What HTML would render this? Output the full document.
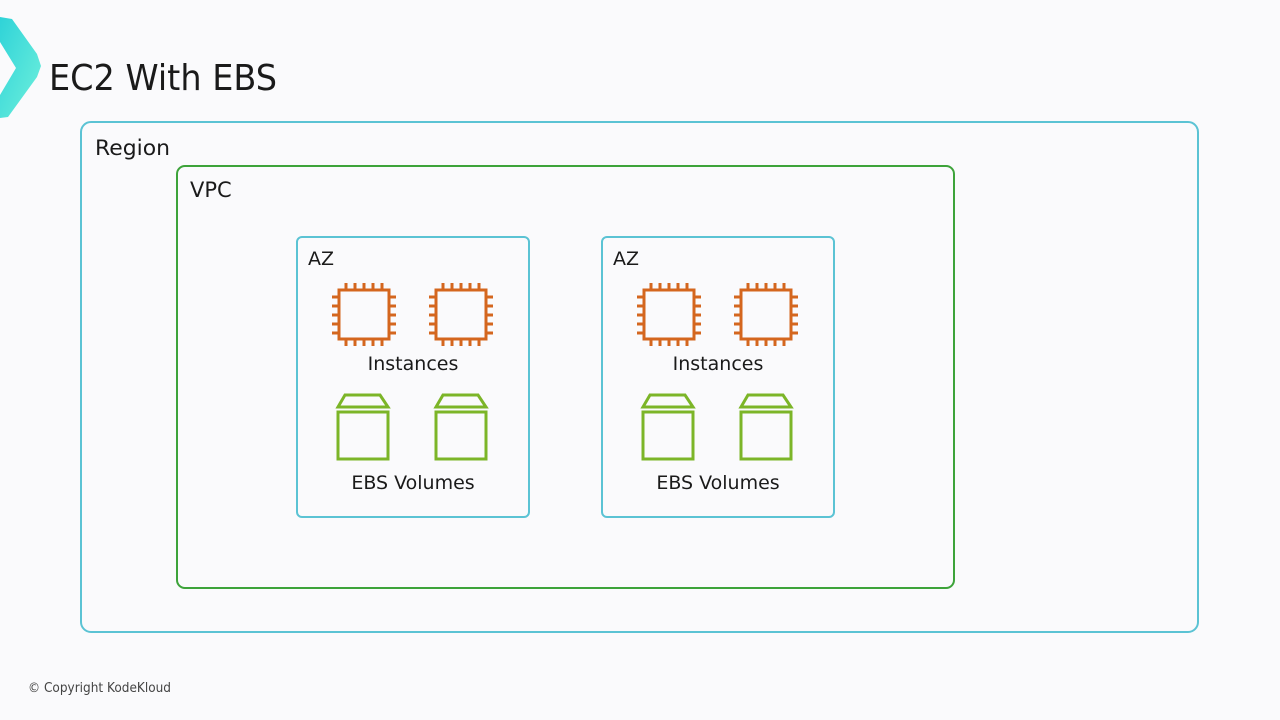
<!DOCTYPE html>
<html><head><meta charset="utf-8"><style>
html,body{margin:0;padding:0;background:#fafafc;}
svg{display:block}
text{font-family:"DejaVu Sans","Liberation Sans",sans-serif;fill:#1a1a1a}
</style></head><body>
<svg width="1280" height="720" viewBox="0 0 1280 720" xmlns="http://www.w3.org/2000/svg">
<defs>
<linearGradient id="g" x1="0" y1="0" x2="1" y2="1">
<stop offset="0" stop-color="#2fd3d8"/><stop offset="1" stop-color="#6ff0dc"/></linearGradient>
<g id="chip" fill="none" stroke="#d4661e" stroke-width="3">
<rect x="339" y="290" width="50" height="49"/>
<path d="M346 283v7M355 283v7M364 283v7M373 283v7M382 283v7M346 339v7M355 339v7M364 339v7M373 339v7M382 339v7M332 297h7M332 306h7M332 315h7M332 324h7M332 333h7M389 297h7M389 306h7M389 315h7M389 324h7M389 333h7"/>
</g>
<g id="vol" fill="none" stroke="#7cb528" stroke-width="3">
<path d="M338 407 L345 395 L380 395 L388 407 Z"/>
<rect x="338" y="412" width="50" height="47"/>
</g>
</defs>
<rect width="1280" height="720" fill="#fafafc"/>
<path d="M0 17 L12 19 L37 54 L41 66 L37 77 L8 117 L0 118 L0 95 L16 68 L0 42 Z" fill="url(#g)"/>
<text x="49" y="90" font-size="36" textLength="228" lengthAdjust="spacingAndGlyphs">EC2 With EBS</text>
<rect x="81" y="122" width="1117" height="510" rx="10" fill="none" stroke="#5bc3d4" stroke-width="2"/>
<text x="95" y="155" font-size="21" textLength="75" lengthAdjust="spacingAndGlyphs">Region</text>
<rect x="177" y="166" width="777" height="422" rx="8" fill="none" stroke="#3da33a" stroke-width="2"/>
<text x="190" y="197" font-size="21">VPC</text>
<g>
<rect x="297" y="237" width="232" height="280" rx="5" fill="none" stroke="#5bc3d4" stroke-width="2"/>
<text x="308" y="265" font-size="19">AZ</text>
<use href="#chip"/><use href="#chip" x="97"/>
<text x="413" y="370" font-size="19" text-anchor="middle">Instances</text>
<use href="#vol"/><use href="#vol" x="98"/>
<text x="413" y="489" font-size="19" text-anchor="middle">EBS Volumes</text>
</g>
<g transform="translate(305,0)">
<rect x="297" y="237" width="232" height="280" rx="5" fill="none" stroke="#5bc3d4" stroke-width="2"/>
<text x="308" y="265" font-size="19">AZ</text>
<use href="#chip"/><use href="#chip" x="97"/>
<text x="413" y="370" font-size="19" text-anchor="middle">Instances</text>
<use href="#vol"/><use href="#vol" x="98"/>
<text x="413" y="489" font-size="19" text-anchor="middle">EBS Volumes</text>
</g>
<text x="28" y="692" font-size="13" style="fill:#444" textLength="143" lengthAdjust="spacingAndGlyphs">© Copyright KodeKloud</text>
</svg>
</body></html>
